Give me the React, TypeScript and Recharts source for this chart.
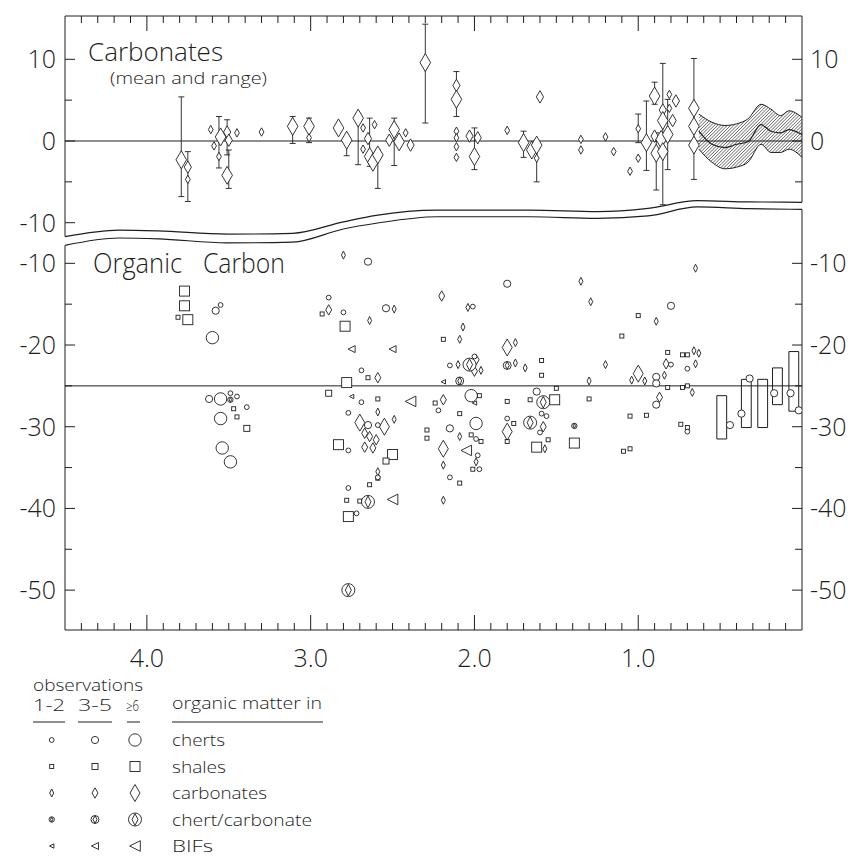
import React from 'react';
import { ComposedChart, Scatter, Line, Area, XAxis, YAxis, ReferenceLine, ReferenceArea, ErrorBar } from 'recharts';

const W = 857;
const H = 857;
const INK = '#1e1e1e';
const FONT = '"Open Sans", "DejaVu Sans", sans-serif';

// age axis (Ga before present), drawn reversed
const ageMajor = [4, 3, 2, 1];
const ageTicks = Array.from({ length: 44 }, (_, i) => (i + 1) / 10);

// carbonate panel axis
const carbDomain: [number, number] = [-59.85, 15.3];
const carbTicksLeft = [10, 5, 0, -5, -10];
const carbTicksRight = [10, 5, 0, -5];
const carbLabels = [10, 0, -10];

// organic carbon panel axis
const orgDomain: [number, number] = [-54.88, 20.27];
const orgTicks = [-10, -15, -20, -25, -30, -35, -40, -45, -50];
const orgLabels = [-10, -20, -30, -40, -50];

// carbonates: [age, d13C, size class]
const carbonateMeans = [
  [3.79, -2.3, 3], [3.75, -3.2, 2], [3.75, -4.7, 1], [3.61, 1.4, 1], [3.59, -0.6, 1],
  [3.55, 0.5, 3], [3.56, -1.9, 1], [3.51, 1.1, 2], [3.5, 0.1, 2], [3.51, -4.2, 3],
  [3.45, 1.0, 1], [3.3, 1.1, 1], [3.11, 1.8, 3], [3.01, 1.8, 3], [3.01, 0.4, 1],
  [2.83, 1.6, 3], [2.78, 0.1, 3], [2.71, 2.8, 3], [2.68, 1.6, 1], [2.68, -1.0, 1],
  [2.65, 0.3, 2], [2.64, -1.9, 3], [2.62, -2.6, 3], [2.61, 2.0, 1], [2.59, -1.7, 3],
  [2.52, 0.1, 2], [2.49, 1.4, 3], [2.46, -0.1, 3], [2.42, 1.0, 1], [2.39, -0.5, 2],
  [2.3, 9.6, 3], [2.11, 6.8, 2], [2.11, 5.1, 3], [2.11, 1.2, 1], [2.11, 0.4, 1],
  [2.11, -0.7, 1], [2.11, -2.0, 1], [2.03, 0.6, 2], [2.0, -1.9, 3], [1.98, 0.4, 2],
  [1.8, 1.3, 1], [1.7, -0.2, 3], [1.65, -1.1, 3], [1.62, -0.5, 3], [1.62, -2.1, 1],
  [1.6, 5.4, 2], [1.35, 0.2, 1], [1.35, -1.1, 1], [1.2, 0.5, 1], [1.15, -1.3, 1],
  [1.05, -3.7, 1], [1.0, 1.5, 1], [1.0, -2.1, 1], [0.95, -0.2, 3], [0.9, 5.5, 3],
  [0.9, 0.6, 2], [0.89, -1.5, 3], [0.85, 3.8, 2], [0.85, 2.5, 3], [0.86, 0.2, 3],
  [0.85, -1.3, 3], [0.82, 0.8, 3], [0.81, 5.7, 1], [0.81, 4.0, 1], [0.79, 2.5, 2],
  [0.77, 4.9, 2], [0.66, 4.0, 3], [0.66, 1.8, 3], [0.66, -0.5, 3],
];

// carbonate ranges: [age, low, high]
const carbonateRanges = [
  [3.79, -6.8, 5.4], [3.75, -7.4, -1.3], [3.56, -3.3, 3.0], [3.51, -1.7, 2.6], [3.5, -5.8, -1.1],
  [3.11, -0.3, 3.0], [3.01, -0.2, 2.8], [2.78, -1.8, 0.5], [2.71, -2.9, 3.3], [2.64, -3.1, 2.8],
  [2.59, -5.8, -1.1], [2.49, -3.0, 2.8], [2.3, 2.2, 14.3], [2.11, 3.0, 8.5], [2.0, -3.5, 1.6],
  [1.7, -2.0, 1.2], [1.62, -5.0, -0.5], [1.0, -0.2, 3.3], [0.95, -3.6, 4.9], [0.9, 4.5, 7.2],
  [0.89, -6.0, 1.0], [0.85, -7.8, 9.5], [0.82, -3.5, 5.1], [0.66, -4.7, 10.1],
];

// Phanerozoic carbonate envelope: [age, low, high, mean]
const carbonateBand = [
  [0.63, -1.0, 3.3, 1.2], [0.55, -2.6, 2.3, -0.4], [0.47, -3.4, 1.9, -0.8], [0.4, -3.2, 2.1, -0.4],
  [0.33, -2.6, 2.7, -0.1], [0.25, -0.4, 4.5, 2.0], [0.19, -1.4, 3.9, 1.2], [0.13, -1.4, 3.1, 1.0],
  [0.08, -1.0, 3.7, 1.4], [0.0, -2.0, 2.9, 0.8],
];

// axis break outlines: [age, value]
const breakTop = [
  [4.5, -11.7], [4.17, -10.9], [3.93, -11.0], [3.51, -11.4], [3.11, -11.3], [2.8, -9.9],
  [2.6, -9.1], [2.23, -8.45], [1.66, -8.45], [1.25, -8.65], [0.94, -8.25], [0.64, -7.3],
  [0.33, -7.45], [0.0, -7.5],
];
const breakBottom = [
  [4.5, -7.8], [4.17, -6.9], [3.93, -7.0], [3.51, -7.5], [3.11, -7.4], [2.8, -5.8],
  [2.6, -5.1], [2.23, -4.3], [1.66, -4.3], [1.25, -4.5], [0.94, -4.2], [0.64, -3.1],
  [0.33, -3.3], [0.0, -3.4],
];

// organic carbon: [age, d13C, size class 1 = 1-2, 2 = 3-5, 3 = >=6 observations]
const cherts = [
  [3.58, -15.8, 2], [3.55, -15.1, 1], [3.6, -19.1, 3], [3.62, -26.6, 2], [3.55, -26.6, 3],
  [3.49, -25.9, 1], [3.45, -26.3, 1], [3.39, -27.6, 1], [3.55, -29.0, 3], [3.54, -32.6, 3],
  [3.49, -34.3, 3], [2.65, -9.8, 2], [2.89, -14.2, 1], [2.8, -16.0, 1], [2.54, -15.5, 2],
  [2.69, -23.1, 1], [2.69, -27.0, 1], [2.77, -28.3, 1], [2.65, -29.8, 2], [2.59, -29.8, 1],
  [2.77, -32.9, 1], [2.59, -36.2, 1], [2.77, -37.5, 1], [2.72, -40.6, 1], [1.8, -12.5, 2],
  [2.01, -15.3, 1], [2.0, -21.4, 1], [2.15, -22.5, 1], [2.02, -26.2, 3], [2.22, -28.0, 1],
  [1.99, -29.6, 3], [2.15, -30.2, 2], [1.98, -33.5, 1], [1.97, -35.2, 1], [2.15, -36.2, 1],
  [1.8, -29.0, 1], [1.99, -31.5, 1], [1.62, -25.7, 2], [1.59, -28.4, 1], [1.56, -28.7, 1],
  [1.6, -30.7, 1], [0.8, -15.2, 2], [0.7, -22.9, 1], [0.8, -22.4, 1], [0.89, -23.9, 2],
  [0.89, -24.7, 2], [0.89, -27.3, 2], [0.7, -30.6, 1],
];
const shales = [
  [3.77, -13.4, 3], [3.77, -15.2, 3], [3.75, -16.9, 3], [3.81, -16.6, 1], [3.47, -27.8, 1],
  [3.45, -28.8, 1], [3.39, -30.2, 2], [2.93, -16.2, 1], [2.79, -17.7, 3], [2.65, -24.0, 1],
  [2.78, -24.6, 3], [2.89, -25.9, 2], [2.59, -26.6, 1], [2.83, -32.2, 3], [2.5, -33.4, 3],
  [2.54, -34.2, 2], [2.78, -39.0, 1], [2.77, -41.0, 3], [2.7, -39.1, 1], [2.64, -37.1, 1],
  [2.59, -36.3, 1], [2.29, -30.4, 1], [2.29, -31.4, 1], [2.19, -19.3, 1], [1.97, -26.2, 1],
  [2.24, -27.1, 1], [2.09, -28.4, 1], [1.8, -26.9, 1], [2.02, -31.0, 1], [1.96, -31.8, 1],
  [2.01, -35.2, 1], [2.09, -36.9, 1], [1.59, -21.9, 1], [1.59, -23.7, 1], [1.76, -29.6, 1],
  [1.8, -31.8, 1], [1.66, -26.7, 1], [1.51, -26.7, 3], [1.5, -25.3, 1], [1.62, -32.5, 3],
  [1.55, -31.6, 1], [1.39, -32.0, 3], [1.3, -26.6, 1], [1.0, -16.4, 1], [1.1, -18.9, 1],
  [0.82, -20.9, 1], [0.73, -21.2, 1], [0.7, -21.2, 1], [0.82, -25.2, 1], [0.73, -25.2, 1],
  [0.7, -25.0, 1], [1.05, -28.7, 1], [0.95, -28.6, 1], [1.09, -33.0, 1], [1.05, -32.7, 1],
  [0.74, -29.7, 1], [0.7, -30.1, 1],
];
const carbonates = [
  [2.8, -9.0, 1], [2.89, -15.7, 2], [2.64, -17.0, 1], [2.49, -15.6, 1], [2.59, -24.0, 2],
  [2.59, -28.2, 1], [2.49, -29.1, 1], [2.7, -29.5, 3], [2.55, -30.0, 3], [2.67, -30.8, 2],
  [2.64, -31.2, 2], [2.6, -31.6, 2], [2.62, -32.6, 2], [2.67, -32.5, 2], [2.59, -35.5, 1],
  [2.2, -14.0, 2], [2.04, -15.4, 1], [2.07, -17.8, 1], [2.09, -19.3, 1], [1.8, -20.3, 3],
  [1.75, -19.7, 1], [2.1, -22.4, 1], [1.99, -21.8, 2], [2.0, -23.2, 2], [1.96, -23.1, 1],
  [1.75, -22.2, 1], [1.69, -22.8, 1], [2.19, -26.7, 2], [1.8, -30.6, 3], [2.09, -31.2, 1],
  [2.19, -32.7, 3], [2.19, -34.7, 1], [1.99, -34.3, 1], [2.19, -39.0, 1], [1.58, -30.0, 2],
  [1.57, -32.7, 1], [1.35, -12.2, 1], [1.29, -14.7, 1], [0.65, -10.6, 1], [0.89, -17.1, 1],
  [0.66, -20.7, 1], [0.63, -21.0, 1], [0.65, -22.3, 1], [0.83, -22.3, 2], [1.2, -22.4, 1],
  [1.0, -23.5, 3], [1.04, -24.3, 1], [0.96, -24.4, 1], [0.84, -23.7, 1], [1.3, -24.4, 1],
  [0.87, -26.4, 2], [0.67, -25.8, 1],
];
const chertCarbonates = [
  [3.49, -26.7, 1], [2.65, -39.2, 3], [2.77, -50.0, 3], [2.03, -22.4, 3], [1.8, -22.5, 2],
  [1.58, -27.0, 3], [1.66, -29.5, 3], [1.39, -29.9, 1], [2.09, -24.4, 2],
];
const bifs = [
  [2.75, -20.5, 2], [2.5, -20.5, 2], [2.75, -26.3, 1], [2.39, -26.9, 3], [2.5, -38.9, 3],
  [2.19, -24.5, 1], [2.0, -27.1, 1], [2.05, -32.9, 3],
];

// young sediments: ranges [age, low, high] and means [age, d13C]
const recentRanges = [
  [0.49, -31.5, -26.2], [0.34, -30.1, -24.2], [0.24, -30.1, -24.2], [0.15, -27.3, -22.8], [0.05, -28.1, -20.8],
];
const recentMeans = [
  [0.44, -29.8], [0.37, -28.4], [0.32, -24.1], [0.17, -25.9], [0.07, -25.9], [0.02, -28.0],
];

const pts = (rows: number[][]) => rows.map(([t, v, n]) => ({ t, v, n }));

type Kind = 'chert' | 'shale' | 'carb' | 'cc' | 'bif' | 'bigCarb';

function Mark({ kind, n, cx, cy }: { kind: Kind; n: number; cx: number; cy: number }) {
  const st = { stroke: INK, strokeWidth: 0.9, fill: '#fff' };
  const i = Math.max(0, Math.min(2, n - 1));
  const diamond = (hw: number, hh: number) =>
    `${cx},${cy - hh} ${cx + hw},${cy} ${cx},${cy + hh} ${cx - hw},${cy}`;
  if (kind === 'chert') return <circle cx={cx} cy={cy} r={[2.4, 3.6, 6.2][i]} {...st} />;
  if (kind === 'shale') {
    const h = [2, 3, 5][i];
    return <rect x={cx - h} y={cy - h} width={2 * h} height={2 * h} {...st} />;
  }
  if (kind === 'carb') {
    const [hw, hh] = [[2, 4], [3, 5.2], [5, 8.5]][i];
    return <polygon points={diamond(hw, hh)} {...st} />;
  }
  if (kind === 'bigCarb') {
    const [hw, hh] = [[2.4, 4.2], [3.6, 6.2], [5.3, 9]][i];
    return <polygon points={diamond(hw, hh)} {...st} />;
  }
  if (kind === 'cc') {
    const r = [2.7, 4, 6.5][i];
    const [hw, hh] = [[1.2, 2.5], [2, 3.8], [3, 5.8]][i];
    return (
      <g>
        <circle cx={cx} cy={cy} r={r} {...st} />
        <polygon points={diamond(hw, hh)} {...st} />
      </g>
    );
  }
  const s = [2.2, 3.5, 5.3][i];
  return <polygon points={`${cx - s},${cy} ${cx + s},${cy - s} ${cx + s},${cy + s}`} {...st} />;
}

const shapeOf = (kind: Kind) => (p: any) => <Mark kind={kind} n={p.payload.n ?? 2} cx={p.cx} cy={p.cy} />;

function topAgeTick(p: any) {
  const major = ageMajor.includes(p.payload.value);
  return <line x1={p.x} x2={p.x} y1={p.y} y2={p.y + (major ? 15 : 7)} stroke={INK} strokeWidth={1} />;
}

function bottomAgeTick(p: any) {
  const v = p.payload.value;
  const major = ageMajor.includes(v);
  return (
    <g>
      <line x1={p.x} x2={p.x} y1={p.y} y2={p.y - (major ? 15 : 7)} stroke={INK} strokeWidth={1} />
      {major && (
        <text x={p.x} y={p.y + 37} textAnchor="middle" fontSize={25} fontFamily={FONT} fontWeight={300} fill={INK}>
          {v.toFixed(1)}
        </text>
      )}
    </g>
  );
}

const valueTick = (labels: number[], side: 'left' | 'right') => (p: any) => {
  const v = p.payload.value;
  const major = labels.includes(v);
  const dir = side === 'left' ? 1 : -1;
  return (
    <g>
      <line x1={p.x} x2={p.x + dir * (major ? 10 : 7)} y1={p.y} y2={p.y} stroke={INK} strokeWidth={1} />
      {major && (
        <text
          x={side === 'left' ? p.x - 9 : p.x + 8}
          y={p.y}
          dy="0.36em"
          textAnchor={side === 'left' ? 'end' : 'start'}
          fontSize={25}
          fontFamily={FONT}
          fontWeight={300}
          fill={INK}
        >
          {v}
        </text>
      )}
    </g>
  );
};

const abs: React.CSSProperties = { position: 'absolute', left: 0, top: 0 };

function CarbonatePanel() {
  const band = carbonateBand.map(([t, lo, hi, m]) => ({ t, band: [lo, hi], m }));
  const ranges = carbonateRanges.map(([t, lo, hi]) => ({ t, v: lo, err: [0, hi - lo] }));
  const outline = breakTop.map(([t, v]) => ({ t, v }));
  return (
    <ComposedChart width={W} height={H} margin={{ top: 0, right: 0, bottom: 227, left: 0 }} style={abs}>
      <defs>
        <pattern id="hatch" width="2.3" height="2.3" patternUnits="userSpaceOnUse" patternTransform="rotate(45)">
          <line x1="0" y1="0" x2="0" y2="2.3" stroke="#222" strokeWidth="1" />
        </pattern>
      </defs>
      <XAxis
        xAxisId={0}
        orientation="top"
        dataKey="t"
        type="number"
        domain={[0, 4.5]}
        reversed
        allowDataOverflow
        ticks={ageTicks}
        interval={0}
        height={16}
        tickSize={0}
        tickMargin={0}
        tickLine={false}
        tick={topAgeTick}
        stroke={INK}
      />
      <YAxis yAxisId="L" dataKey="v" type="number" domain={carbDomain} allowDataOverflow ticks={carbTicksLeft}
        interval={0} width={65} tickSize={0} tickMargin={0} tickLine={false} axisLine={false}
        tick={valueTick(carbLabels, 'left')} />
      <YAxis yAxisId="R" orientation="right" type="number" domain={carbDomain} allowDataOverflow ticks={carbTicksRight}
        interval={0} width={55} tickSize={0} tickMargin={0} tickLine={false} axisLine={false}
        tick={valueTick(carbLabels, 'right')} />
      <ReferenceLine yAxisId="L" segment={[{ x: 4.5, y: carbDomain[1] }, { x: 4.5, y: breakTop[0][1] }]} stroke={INK} strokeWidth={1} />
      <ReferenceLine yAxisId="L" segment={[{ x: 0, y: carbDomain[1] }, { x: 0, y: breakTop[breakTop.length - 1][1] }]} stroke={INK} strokeWidth={1} />
      <Area yAxisId="L" data={band} dataKey="band" type="monotone" fill="url(#hatch)" fillOpacity={1}
        stroke={INK} strokeWidth={1} isAnimationActive={false} />
      <ReferenceLine yAxisId="L" y={0} stroke={INK} strokeWidth={1} />
      <Line yAxisId="L" data={band} dataKey="m" type="monotone" dot={false} stroke={INK} strokeWidth={1.2} isAnimationActive={false} />
      <Line yAxisId="L" data={outline} dataKey="v" type="monotone" dot={false} stroke={INK} strokeWidth={1.2} isAnimationActive={false} />
      <Scatter yAxisId="L" data={ranges} shape={() => <g />} isAnimationActive={false}>
        <ErrorBar dataKey="err" direction="y" width={3} stroke={INK} strokeWidth={0.9} />
      </Scatter>
      <Scatter yAxisId="L" data={pts(carbonateMeans)} shape={shapeOf('bigCarb')} isAnimationActive={false} />
    </ComposedChart>
  );
}

function OrganicPanel() {
  const outline = breakBottom.map(([t, v]) => ({ t, v }));
  const means = recentMeans.map(([t, v]) => ({ t, v, n: 2 }));
  return (
    <ComposedChart width={W} height={H} margin={{ top: 16, right: 0, bottom: 0, left: 0 }} style={abs}>
      <XAxis
        dataKey="t"
        type="number"
        domain={[0, 4.5]}
        reversed
        allowDataOverflow
        ticks={ageTicks}
        interval={0}
        height={227}
        tickSize={0}
        tickMargin={0}
        tickLine={false}
        tick={bottomAgeTick}
        stroke={INK}
      />
      <YAxis yAxisId="L" dataKey="v" type="number" domain={orgDomain} allowDataOverflow ticks={orgTicks}
        interval={0} width={65} tickSize={0} tickMargin={0} tickLine={false} axisLine={false}
        tick={valueTick(orgLabels, 'left')} />
      <YAxis yAxisId="R" orientation="right" type="number" domain={orgDomain} allowDataOverflow ticks={orgTicks}
        interval={0} width={55} tickSize={0} tickMargin={0} tickLine={false} axisLine={false}
        tick={valueTick(orgLabels, 'right')} />
      <ReferenceLine yAxisId="L" segment={[{ x: 4.5, y: orgDomain[0] }, { x: 4.5, y: breakBottom[0][1] }]} stroke={INK} strokeWidth={1} />
      <ReferenceLine yAxisId="L" segment={[{ x: 0, y: orgDomain[0] }, { x: 0, y: breakBottom[breakBottom.length - 1][1] }]} stroke={INK} strokeWidth={1} />
      <ReferenceLine yAxisId="L" y={-25} stroke={INK} strokeWidth={1} />
      {recentRanges.map(([t, lo, hi]) => (
        <ReferenceArea key={t} yAxisId="L" x1={t + 0.03} x2={t - 0.03} y1={lo} y2={hi}
          fill="#fff" fillOpacity={1} stroke={INK} strokeWidth={1} />
      ))}
      <Line yAxisId="L" data={outline} dataKey="v" type="monotone" dot={false} stroke={INK} strokeWidth={1.2} isAnimationActive={false} />
      <Scatter yAxisId="L" data={pts(shales)} shape={shapeOf('shale')} isAnimationActive={false} />
      <Scatter yAxisId="L" data={pts(carbonates)} shape={shapeOf('carb')} isAnimationActive={false} />
      <Scatter yAxisId="L" data={pts(cherts)} shape={shapeOf('chert')} isAnimationActive={false} />
      <Scatter yAxisId="L" data={pts(chertCarbonates)} shape={shapeOf('cc')} isAnimationActive={false} />
      <Scatter yAxisId="L" data={pts(bifs)} shape={shapeOf('bif')} isAnimationActive={false} />
      <Scatter yAxisId="L" data={means} shape={shapeOf('chert')} isAnimationActive={false} />
    </ComposedChart>
  );
}

const legendRows: { kind: Kind; label: string; len: number }[] = [
  { kind: 'chert', label: 'cherts', len: 53 },
  { kind: 'shale', label: 'shales', len: 54 },
  { kind: 'carb', label: 'carbonates', len: 95 },
  { kind: 'cc', label: 'chert/carbonate', len: 140 },
  { kind: 'bif', label: 'BIFs', len: 41 },
];

function Annotations() {
  const txt = { fontFamily: FONT, fontWeight: 300, fill: INK } as const;
  return (
    <svg width={W} height={H} style={abs}>
      <text x={88} y={61} fontSize={26} textLength={135} lengthAdjust="spacingAndGlyphs" {...txt}>Carbonates</text>
      <text x={110} y={84} fontSize={16} textLength={157} lengthAdjust="spacingAndGlyphs" {...txt}>(mean and range)</text>
      <text x={93} y={273} fontSize={27} textLength={89} lengthAdjust="spacingAndGlyphs" {...txt}>Organic</text>
      <text x={203} y={273} fontSize={27} textLength={82} lengthAdjust="spacingAndGlyphs" {...txt}>Carbon</text>

      <text x={33} y={691} fontSize={16} textLength={110} lengthAdjust="spacingAndGlyphs" {...txt}>observations</text>
      <text x={33} y={711} fontSize={16} textLength={32} lengthAdjust="spacingAndGlyphs" {...txt}>1-2</text>
      <text x={78} y={711} fontSize={16} textLength={34} lengthAdjust="spacingAndGlyphs" {...txt}>3-5</text>
      <text x={126} y={711} fontSize={14} textLength={13} lengthAdjust="spacingAndGlyphs" {...txt}>≥6</text>
      <text x={172} y={709} fontSize={17} textLength={150} lengthAdjust="spacingAndGlyphs" {...txt}>organic matter in</text>
      {[[33, 65], [78, 112], [127, 140], [172, 323]].map(([a, b]) => (
        <line key={a} x1={a} x2={b} y1={722} y2={722} stroke={INK} strokeWidth={1} />
      ))}
      {legendRows.map((r, k) => {
        const cy = 740 + k * 26.5;
        return (
          <g key={r.label}>
            {[51.7, 95, 135].map((cx, j) => (
              <Mark key={j} kind={r.kind} n={j + 1} cx={cx} cy={cy} />
            ))}
            <text x={172} y={cy + 6} fontSize={17} textLength={r.len} lengthAdjust="spacingAndGlyphs" {...txt}>
              {r.label}
            </text>
          </g>
        );
      })}
    </svg>
  );
}

export default function App() {
  return (
    <div style={{ position: 'absolute', left: 0, top: 0, width: W, height: H, background: '#fff' }}>
      <CarbonatePanel />
      <OrganicPanel />
      <Annotations />
    </div>
  );
}
